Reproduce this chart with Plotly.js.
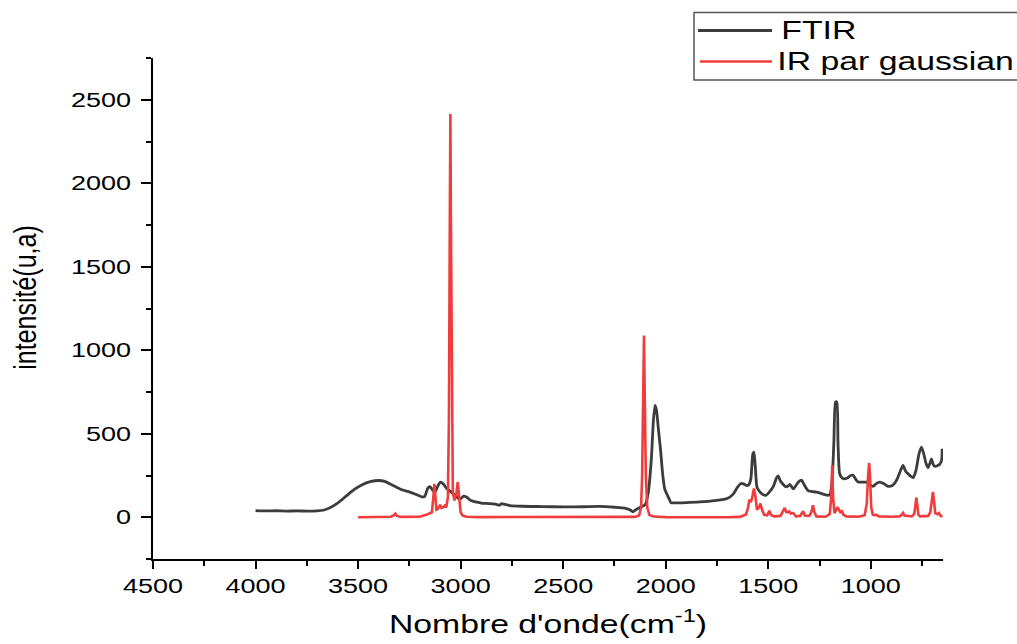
<!DOCTYPE html>
<html>
<head>
<meta charset="utf-8">
<script src="https://cdn.plot.ly/plotly-3.0.1.min.js"></script>
<style>
  html, body { margin: 0; padding: 0; background: #ffffff; }
  #chart { width: 1017px; height: 644px; }
</style>
</head>
<body>
<div id="chart"></div>
<script>
// ---------------- DATA ----------------
const seriesNames = ['FTIR', 'IR par gaussian'];

const wnFTIR = [4000, 3950, 3900, 3850, 3800, 3750, 3700, 3670, 3640, 3600, 3560, 3520, 3480, 3440, 3400,
  3370, 3340, 3310, 3280, 3250, 3220, 3190, 3175, 3160, 3150, 3135, 3125, 3110, 3098, 3085, 3070,
  3050, 3030, 3010, 3000, 2985, 2970, 2950, 2920, 2900, 2860, 2830, 2810, 2800, 2790, 2760, 2700,
  2600, 2500, 2400, 2322, 2250, 2200, 2175, 2160, 2145, 2120, 2100, 2085, 2070, 2060, 2052, 2045,
  2035, 2025, 2015, 2005, 1995, 1985, 1975, 1960, 1900, 1834, 1760, 1700, 1670, 1650, 1635, 1620,
  1606, 1595, 1585, 1575, 1570, 1563, 1555, 1540, 1525, 1510, 1495, 1475, 1460, 1452, 1440, 1428,
  1415, 1405, 1395, 1385, 1378, 1365, 1350, 1338, 1325, 1306, 1290, 1265, 1240, 1215, 1200, 1190,
  1180, 1172, 1166, 1160, 1152, 1140, 1130, 1115, 1098, 1086, 1075, 1062, 1040, 1021, 1005, 989,
  975, 956, 935, 916, 895, 875, 855, 843, 830, 818, 805, 794, 780, 765, 753, 742, 730, 721, 710,
  704, 697, 688, 676, 664, 655, 652];
const intFTIR = [40, 38, 39, 37, 38, 37, 38, 42, 55, 85, 125, 165, 195, 213, 220,
  215, 197, 178, 162, 152, 138, 122, 125, 175, 183, 160, 150, 190, 210, 200, 175,
  155, 135, 113, 112, 126, 120, 100, 90, 85, 82, 78, 72, 82, 78, 70, 66,
  64, 62, 63, 65, 60, 55, 45, 33, 45, 62, 75, 150, 350, 580, 670, 640,
  520, 400, 260, 170, 140, 115, 88, 86, 88, 92, 100, 112, 140, 180, 201, 200,
  190, 195, 230, 380, 390, 300, 180, 150, 135, 132, 150, 185, 235, 248, 215, 197,
  183, 185, 197, 180, 170, 190, 215, 222, 195, 160, 155, 150, 142, 132, 135, 200,
  450, 690, 690, 450, 262, 235, 230, 235, 250, 252, 230, 211, 210, 210, 195, 185,
  200, 210, 200, 185, 190, 220, 280, 310, 275, 260, 245, 237, 280, 380, 420, 380, 320, 297, 330,
  350, 320, 305, 308, 317, 340, 410];

const wnGauss = [3500, 3400, 3340, 3325, 3318, 3310, 3290, 3200, 3175, 3160, 3150, 3140, 3133, 3128,
  3123, 3118, 3110, 3100, 3093, 3085, 3078, 3070, 3062, 3057, 3053, 3050, 3047, 3043, 3038, 3030,
  3020, 3014, 3008, 3000, 2990, 2970, 2900, 2500, 2200, 2150, 2130, 2120, 2115, 2110, 2106, 2102,
  2097, 2090, 2080, 2060, 2000, 1700, 1640, 1610, 1600, 1592, 1585, 1578, 1570, 1563, 1555, 1545,
  1538, 1530, 1520, 1505, 1495, 1485, 1470, 1440, 1425, 1420, 1412, 1405, 1398, 1390, 1378, 1365,
  1345, 1335, 1330, 1322, 1300, 1290, 1282, 1275, 1265, 1220, 1200, 1193, 1188, 1184, 1177, 1170,
  1163, 1155, 1148, 1140, 1133, 1120, 1060, 1030, 1020, 1013, 1008, 1004, 998, 990, 982, 975, 960,
  900, 860, 850, 843, 836, 800, 788, 782, 778, 774, 768, 760, 720, 710, 702, 697, 692, 686, 675,
  668, 660, 650];
const intGauss = [0, 1, 3, 12, 22, 8, 2, 3, 10, 18, 25, 30, 120, 200,
  120, 45, 50, 75, 55, 60, 70, 60, 120, 600, 1700, 2415, 1700, 600, 150, 100,
  150, 211, 120, 30, 10, 3, 1, 0, 0, 2, 10, 60, 250, 700, 1088, 700,
  250, 60, 15, 4, 1, 0, 2, 15, 50, 105, 90, 120, 172, 130, 45, 60,
  82, 45, 15, 12, 38, 12, 5, 8, 45, 56, 30, 30, 35, 22, 25, 5,
  8, 30, 36, 10, 8, 30, 72, 30, 5, 3, 20, 120, 311, 120, 25, 40,
  60, 45, 30, 35, 15, 5, 3, 12, 80, 250, 325, 250, 60, 15, 12, 15, 5,
  3, 5, 15, 26, 10, 5, 20, 80, 118, 80, 15, 5, 8, 30, 90, 151, 100, 25, 18,
  25, 8, 5];

const xTickVals = [4500, 4000, 3500, 3000, 2500, 2000, 1500, 1000];
const yTickVals = [0, 500, 1000, 1500, 2000, 2500];
const lineColors = ['#3c3c3c', '#f03c3c'];

// ---------------- LAYOUT HELPERS ----------------
const W = 1017, H = 644;
const M = { l: 153, r: 74, t: 58, b: 85 };
const pw = W - M.l - M.r, ph = H - M.t - M.b;
const px2x = p => (p - M.l) / pw;
const px2y = p => 1 - (p - M.t) / ph;

const FONT = 'Liberation Sans, Arial, sans-serif';
const STRETCH = 1.35;

const traces = [
  { x: wnFTIR, y: intFTIR, type: 'scatter', mode: 'lines', name: seriesNames[0],
    line: { color: lineColors[0], width: 2.8, shape: 'spline', smoothing: 0.6 }, showlegend: false },
  { x: wnGauss, y: intGauss, type: 'scatter', mode: 'lines', name: seriesNames[1],
    line: { color: lineColors[1], width: 2.6 }, showlegend: false }
];

const layout = {
  width: W, height: H,
  margin: M,
  paper_bgcolor: '#ffffff', plot_bgcolor: '#ffffff',
  font: { family: FONT, color: '#000000' },
  xaxis: {
    range: [4500, 648], tickvals: xTickVals, ticktext: xTickVals.map(String),
    showgrid: false, zeroline: false, showline: true, linecolor: '#000', linewidth: 2,
    ticks: 'outside', ticklen: 8, tickwidth: 2, tickcolor: '#000',
    minor: { dtick: 250, tick0: 0, ticks: 'outside', ticklen: 5, tickwidth: 2, tickcolor: '#000', showgrid: false },
    tickfont: { family: FONT, size: 20, color: '#000' },
    title: { text: "Nombre d'onde(cm<sup>-1</sup>)", font: { family: FONT, size: 25, color: '#000' }, standoff: 19 }
  },
  yaxis: {
    range: [-250, 2750], tickvals: yTickVals, ticktext: yTickVals.map(String),
    showgrid: false, zeroline: false, showline: true, linecolor: '#000', linewidth: 2,
    ticks: 'outside', ticklen: 10, tickwidth: 2, tickcolor: '#000',
    minor: { dtick: 250, tick0: 0, ticks: 'outside', ticklen: 5, tickwidth: 2, tickcolor: '#000', showgrid: false },
    tickfont: { family: FONT, size: 20, color: '#000' },
    ticklabelstandoff: 6,
    title: { text: 'intensité(u,a)', font: { family: FONT, size: 25, color: '#000' }, standoff: 43 }
  },
  shapes: [
    { type: 'rect', xref: 'paper', yref: 'paper', x0: px2x(694), x1: px2x(1030), y0: px2y(80), y1: px2y(12.5),
      line: { color: '#555555', width: 1.5 }, fillcolor: 'rgba(255,255,255,0)' },
    { type: 'line', xref: 'paper', yref: 'paper', x0: px2x(698), x1: px2x(772), y0: px2y(30.5), y1: px2y(30.5),
      line: { color: lineColors[0], width: 2.8 } },
    { type: 'line', xref: 'paper', yref: 'paper', x0: px2x(700), x1: px2x(772), y0: px2y(61.5), y1: px2y(61.5),
      line: { color: lineColors[1], width: 2.6 } }
  ],
  annotations: [
    { xref: 'paper', yref: 'paper', x: px2x(819), y: px2y(30.5), xanchor: 'center', yanchor: 'middle',
      text: seriesNames[0], showarrow: false, font: { family: FONT, size: 25, color: '#000' } },
    { xref: 'paper', yref: 'paper', x: px2x(895), y: px2y(61.5), xanchor: 'center', yanchor: 'middle',
      text: seriesNames[1], showarrow: false, font: { family: FONT, size: 25, color: '#000' } }
  ]
};

function stretchText(selector, k) {
  document.querySelectorAll(selector).forEach(t => {
    const w = t.getComputedTextLength();
    if (w > 0) {
      t.setAttribute('textLength', (w * k).toFixed(2));
      t.setAttribute('lengthAdjust', 'spacingAndGlyphs');
    }
  });
}

function widenYTitle(kx, dy) {
  const t = document.querySelector('#chart .g-ytitle text');
  if (!t) return;
  const x = parseFloat(t.getAttribute('x')) || 0;
  const y = parseFloat(t.getAttribute('y')) || 0;
  const tr = t.getAttribute('transform') || '';
  t.setAttribute('transform',
    `translate(0,${dy}) translate(${x},${y}) scale(${kx},1) translate(${-x},${-y}) ${tr}`);
}

Plotly.newPlot('chart', traces, layout, { displayModeBar: false, staticPlot: true }).then(() => {
  stretchText('#chart .xtick text', STRETCH);
  stretchText('#chart .ytick text', STRETCH);
  stretchText('#chart .g-xtitle text', STRETCH);
  stretchText('#chart .annotation-text', STRETCH);
  widenYTitle(1.25, -11);
});
</script>
</body>
</html>
